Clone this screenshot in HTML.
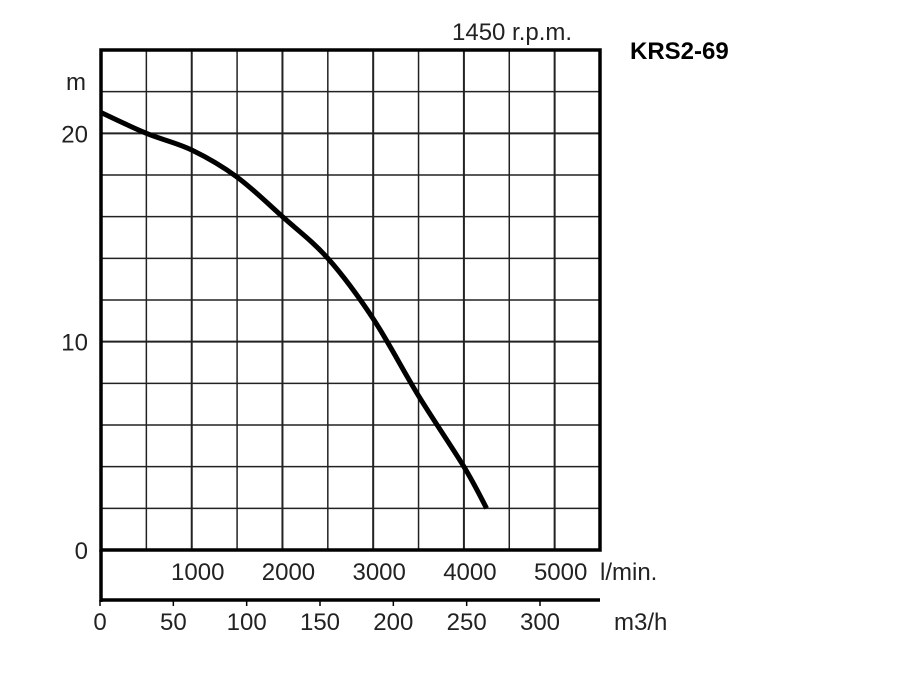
<!DOCTYPE html>
<html><head><meta charset="utf-8"><style>
body{margin:0;background:#fff}
svg{display:block;font-family:"Liberation Sans",Arial,sans-serif}
</style></head><body>
<svg id="c" width="900" height="700" viewBox="0 0 900 700">
<g id="grid"></g>
<g id="axes"></g>
<g id="lbl" font-size="24" fill="#222"></g>
<path id="curve" fill="none" stroke="#000" stroke-width="5" stroke-linecap="butt"></path>
<text x="452" y="40" font-size="24" fill="#222">1450 r.p.m.</text>
<text x="630" y="59" font-size="24" font-weight="bold" fill="#000">KRS2-69</text>
<text x="66" y="90" font-size="24" fill="#222">m</text>
<text x="600" y="580" font-size="24" fill="#222">l/min.</text>
<text x="614" y="630" font-size="24" fill="#222">m3/h</text>
</svg>
<script>
const flowLmin=[0,500,1000,1500,2000,2500,3000,3500,4000,4250];
const headM=[21.0,20.0,19.2,17.9,16.0,14.0,11.1,7.4,4.0,2.0];
const yTicks=[0,10,20];
const lminTicks=[1000,2000,3000,4000,5000];
const m3hTicks=[0,50,100,150,200,250,300];
const NS="http://www.w3.org/2000/svg";
const X0=101,X1=600,Y0=550,Y1=50;
const xS=v=>X0+v*(X1-X0)/5500;
const yS=v=>Y0-v*(Y0-Y1)/24;
const mS=v=>100+v*(540-100)/300;
function mk(tag,attrs,parent){const e=document.createElementNS(NS,tag);for(const k in attrs)e.setAttribute(k,attrs[k]);parent.appendChild(e);return e;}
const grid=document.getElementById('grid'),axes=document.getElementById('axes'),lbl=document.getElementById('lbl');
for(let v=500;v<5500;v+=500){const l=mk('line',{x1:xS(v),x2:xS(v),y1:Y1,y2:Y0,stroke:'#222','stroke-width':(v%1000===0)?2:1.5},grid);

}
for(let v=2;v<24;v+=2){const l=mk('line',{x1:X0,x2:X1,y1:yS(v),y2:yS(v),stroke:'#222','stroke-width':(v%10===0)?2:1.5},grid);

}
const fr=mk('rect',{x:X0,y:Y1,width:X1-X0,height:Y0-Y1,fill:'none',stroke:'#000','stroke-width':3.5},axes);


const lv=mk('line',{x1:X0,x2:X0,y1:Y0,y2:602,stroke:'#000','stroke-width':3.5},axes);


const bl=mk('line',{x1:X0,x2:X1,y1:600,y2:600,stroke:'#000','stroke-width':3.5},axes);


yTicks.forEach(v=>{const t=mk('text',{x:88,y:yS(v)+9,'text-anchor':'end'},lbl);t.textContent=v;

});
lminTicks.forEach(v=>{const t=mk('text',{x:xS(v)+6,y:580,'text-anchor':'middle'},lbl);t.textContent=v;

});
m3hTicks.forEach(v=>{const tk=mk('line',{x1:mS(v),x2:mS(v),y1:600,y2:606,stroke:'#000','stroke-width':1.5},axes);


const t=mk('text',{x:mS(v),y:630,'text-anchor':'middle'},lbl);t.textContent=v;

});
const pts=flowLmin.map((f,i)=>[xS(f),yS(headM[i])]);
let d='M'+pts[0][0]+','+pts[0][1];
for(let i=0;i<pts.length-1;i++){const p0=pts[Math.max(0,i-1)],p1=pts[i],p2=pts[i+1],p3=pts[Math.min(pts.length-1,i+2)];
d+=' C'+(p1[0]+(p2[0]-p0[0])/6)+','+(p1[1]+(p2[1]-p0[1])/6)+' '+(p2[0]-(p3[0]-p1[0])/6)+','+(p2[1]-(p3[1]-p1[1])/6)+' '+p2[0]+','+p2[1];}
document.getElementById('curve').setAttribute('d',d);
</script>
</body></html>
